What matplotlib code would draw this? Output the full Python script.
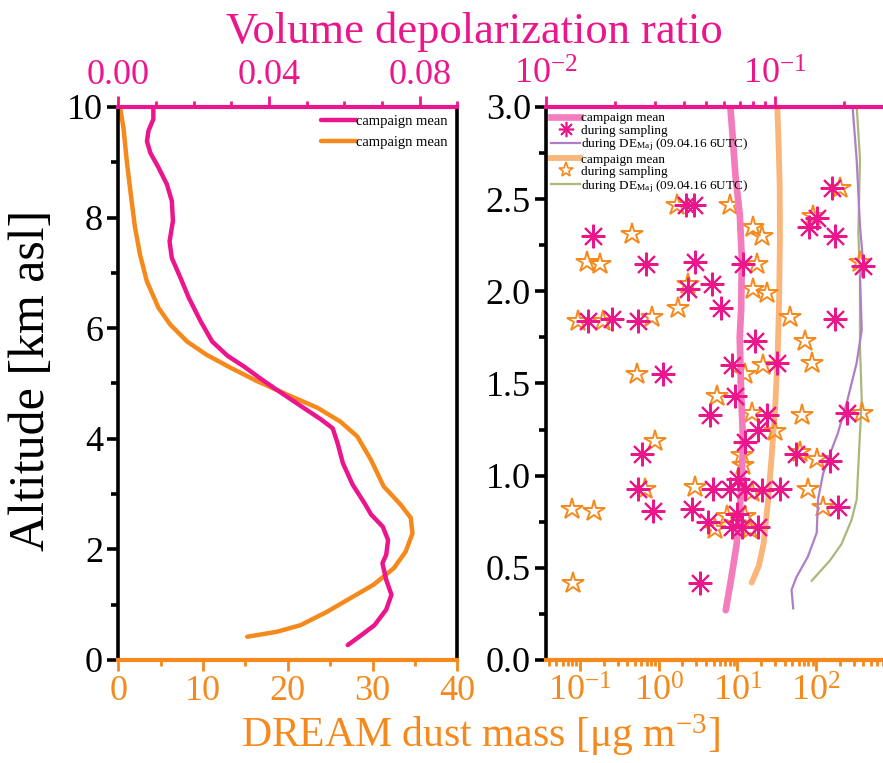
import matplotlib
matplotlib.use("Agg")
import matplotlib.pyplot as plt
from matplotlib.ticker import (MultipleLocator, LogLocator, LogFormatterMathtext,
                               NullFormatter, FormatStrFormatter)
from matplotlib.lines import Line2D

plt.rcParams['font.family'] = ['Liberation Serif', 'DejaVu Serif']
plt.rcParams['mathtext.fontset'] = 'custom'
plt.rcParams['mathtext.rm'] = 'Liberation Serif'
plt.rcParams['mathtext.it'] = 'Liberation Serif:italic'
plt.rcParams['mathtext.bf'] = 'Liberation Serif:bold'

# ---- campaign-mean profiles ----
alt_dep_mean = [0.27, 0.45, 0.63, 0.91, 1.18, 1.45, 1.75, 1.90, 2.17, 2.41, 2.63, 2.84,
                3.17, 3.56, 3.92, 4.19, 4.35, 4.59, 4.92, 5.10, 5.30, 5.50, 5.76, 6.13,
                6.55, 6.91, 7.27, 7.57, 7.94, 8.30, 8.60, 8.90, 9.17, 9.38, 9.57, 9.78, 9.96]
dep_mean = [0.0609, 0.0645, 0.0680, 0.0711, 0.0725, 0.0711, 0.0701, 0.0711, 0.0716, 0.0702,
            0.0671, 0.0653, 0.0622, 0.0596, 0.0582, 0.0569, 0.0538, 0.0485, 0.0413, 0.0375,
            0.0335, 0.0290, 0.0249, 0.0218, 0.0187, 0.0165, 0.0142, 0.0136, 0.0145, 0.0142,
            0.0129, 0.0107, 0.0085, 0.0076, 0.0080, 0.0093, 0.0093]

alt_dust_mean = [0.42, 0.51, 0.63, 0.87, 1.12, 1.36, 1.66, 1.96, 2.29, 2.57, 2.81, 3.14,
                 3.62, 4.04, 4.31, 4.56, 4.80, 5.04, 5.28, 5.52, 5.76, 6.07, 6.37, 6.85,
                 7.33, 7.82, 8.42, 9.02, 9.63, 9.99]
dust_mean = [15.2, 18.7, 21.5, 24.6, 27.4, 30.1, 32.5, 33.9, 34.7, 34.5, 33.3, 31.3,
             29.8, 28.2, 26.2, 23.5, 19.9, 16.4, 13.3, 10.4, 8.1, 6.1, 4.73, 3.36,
             2.56, 1.97, 1.47, 1.0, 0.6, 0.2]

# ---- DE_Maj profiles (09.04.16 6UTC) ----
alt_dep_de = [0.28, 0.38, 0.45, 0.56, 0.69, 0.87, 1.01, 1.12, 1.23, 1.41, 1.61, 1.79,
              2.07, 2.14, 2.35, 2.72, 3.0]
dep_de = [0.120, 0.118, 0.124, 0.139, 0.152, 0.154, 0.162, 0.174, 0.188, 0.207, 0.227,
          0.239, 0.235, 0.243, 0.235, 0.227, 0.218]

alt_dust_de = [0.43, 0.54, 0.63, 0.76, 0.87, 1.05, 1.23, 1.41, 1.70, 2.07, 2.32, 2.72, 3.0]
dust_de = [88, 150, 211, 282, 328, 344, 361, 380, 361, 361, 344, 361, 328]

# ---- values during sampling ----
alt_dep_samp = [2.56, 2.47, 2.47, 2.40, 2.35, 2.30, 2.30, 2.15, 2.16, 2.15, 2.14, 2.04,
                2.01, 1.91, 1.84, 1.85, 1.84, 1.85, 1.73, 1.60, 1.61, 1.55, 1.43, 1.33,
                1.33, 1.34, 1.25, 1.18, 1.12, 1.12, 1.08, 0.98, 0.93, 0.93, 0.93, 0.93,
                0.92, 0.93, 0.81, 0.82, 0.83, 0.75, 0.79, 0.72, 0.72, 0.72, 0.42]
dep_samp = [0.177, 0.0408, 0.0443, 0.152, 0.140, 0.183, 0.0161, 0.0274, 0.0448, 0.0728,
            0.243, 0.0530, 0.0418, 0.0581, 0.0153, 0.0194, 0.0253, 0.183, 0.0818, 0.0647,
            0.1016, 0.0325, 0.0668, 0.0520, 0.092, 0.206, 0.084, 0.074, 0.0262, 0.124,
            0.174, 0.0692, 0.0251, 0.0538, 0.0636, 0.0739, 0.0875, 0.105, 0.0294, 0.0433,
            0.189, 0.0512, 0.068, 0.0647, 0.0716, 0.0845, 0.047]

alt_dust_samp = [2.56, 2.47, 2.47, 2.41, 2.35, 2.30, 2.31, 2.16, 2.15, 2.15, 2.16, 2.04,
                 2.01, 1.99, 1.91, 1.84, 1.84, 1.86, 1.86, 1.73, 1.61, 1.60, 1.55, 1.55,
                 1.43, 1.34, 1.33, 1.34, 1.24, 1.11, 1.19, 1.13, 1.09, 0.94, 0.93, 0.93,
                 0.91, 0.82, 0.81, 0.83, 0.71, 0.78, 0.78, 0.71, 0.42, 1.06]
dust_samp = [201, 1.69, 8.05, 92, 15.9, 20.4, 0.454, 0.122, 0.180, 17.6, 361, 2.38,
             15.9, 23.5, 1.77, 0.095, 0.196, 0.815, 46.6, 72, 88, 21.3, 12.5, 0.525,
             5.58, 15.2, 65.6, 380, 30, 11.4, 0.897, 62, 102, 2.89, 0.67, 80,
             15.2, 0.0785, 0.151, 122, 5.19, 7.3, 12.5, 14.5, 0.082, 11.7]

PINK = '#ec168c'
ORANGE = '#f5891c'
LPINK = '#f37cbc'
LORANGE = '#f9b57a'
PURPLE = '#b07ec6'
OLIVE = '#a9b97a'
TICK_FS = 26
LABEL_FS = 32

fig = plt.figure(figsize=(8.83, 7.63), dpi=100)


def style_axes(ax, axt):
    ax.spines['top'].set_visible(False)
    for s in ('left', 'bottom', 'right'):
        axt.spines[s].set_visible(False)
    ax.spines['left'].set_color('k')
    ax.spines['left'].set_linewidth(2.6)
    ax.spines['right'].set_color('k')
    ax.spines['right'].set_linewidth(2.6)
    ax.spines['bottom'].set_color(ORANGE)
    ax.spines['bottom'].set_linewidth(3)
    axt.spines['top'].set_color(PINK)
    axt.spines['top'].set_linewidth(3)
    ax.tick_params(axis='y', which='major', direction='out', length=8, width=2.6,
                   color='k', labelsize=TICK_FS, labelcolor='k', pad=3)
    ax.tick_params(axis='y', which='minor', direction='out', length=5, width=2.6, color='k')
    ax.tick_params(axis='x', which='major', direction='out', length=8, width=2,
                   color=ORANGE, labelsize=TICK_FS, labelcolor=ORANGE, pad=3)
    ax.tick_params(axis='x', which='minor', direction='out', length=4.5, width=2, color=ORANGE)
    axt.tick_params(axis='x', which='major', direction='out', length=8, width=2,
                    color=PINK, labelsize=TICK_FS, labelcolor=PINK, pad=3)
    axt.tick_params(axis='x', which='minor', direction='out', length=4.5, width=2, color=PINK)


# ---------------- left panel ----------------
axL = fig.add_axes([0.134, 0.135, 0.384, 0.7248])
axLt = axL.twiny()
l_dust, = axL.plot(dust_mean, alt_dust_mean, color=ORANGE, lw=3.2, solid_capstyle='round')
l_dep, = axLt.plot(dep_mean, alt_dep_mean, color=PINK, lw=3.2, solid_capstyle='round')
axL.set_xlim(0, 40)
axL.set_ylim(0, 10)
axLt.set_xlim(0, 0.09)
axL.xaxis.set_major_locator(MultipleLocator(10))
axL.xaxis.set_minor_locator(MultipleLocator(5))
axL.yaxis.set_major_locator(MultipleLocator(2))
axL.yaxis.set_minor_locator(MultipleLocator(1))
axLt.xaxis.set_major_locator(MultipleLocator(0.04))
axLt.xaxis.set_minor_locator(MultipleLocator(0.01))
axLt.xaxis.set_major_formatter(FormatStrFormatter('%.2f'))
style_axes(axL, axLt)
axLt.legend([l_dep, l_dust], ['campaign mean', 'campaign mean'], loc='upper right',
            bbox_to_anchor=(1.0, 1.005), frameon=False, fontsize=10.5,
            handlelength=2.4, handletextpad=0.0, labelspacing=0.55, borderpad=0.2)

# ---------------- right panel ----------------
axR = fig.add_axes([0.6184, 0.135, 0.3816, 0.7248])
axRt = axR.twiny()
lr_dust, = axR.plot(dust_mean, alt_dust_mean, color=LORANGE, lw=4.2, solid_capstyle='round')
lr_dust_de, = axR.plot(dust_de, alt_dust_de, color=OLIVE, lw=1.6)
s_dust, = axR.plot(dust_samp, alt_dust_samp, ls='none', marker='*', ms=16,
                   mfc='none', mec=ORANGE, mew=1.4)
lr_dep, = axRt.plot(dep_mean, alt_dep_mean, color=LPINK, lw=4.8, solid_capstyle='round')
lr_dep_de, = axRt.plot(dep_de, alt_dep_de, color=PURPLE, lw=1.6)
s_dep, = axRt.plot(dep_samp, alt_dep_samp, ls='none', marker=(8, 2, 0), ms=17,
                   color=PINK, mec=PINK, mew=1.5)

axR.set_xscale('log')
axRt.set_xscale('log')
axR.set_xlim(0.0370, 708)
axRt.set_xlim(0.01, 0.296)
axR.set_ylim(0, 3)
axR.yaxis.set_major_locator(MultipleLocator(0.5))
axR.yaxis.set_minor_locator(MultipleLocator(0.25))
axR.yaxis.set_major_formatter(FormatStrFormatter('%.1f'))
for a in (axR, axRt):
    a.xaxis.set_major_locator(LogLocator(base=10, numticks=12))
    a.xaxis.set_minor_locator(LogLocator(base=10, subs=range(2, 10), numticks=12))
    a.xaxis.set_major_formatter(LogFormatterMathtext())
    a.xaxis.set_minor_formatter(NullFormatter())
style_axes(axR, axRt)
axR.spines['right'].set_visible(False)

de_label = r'during DE$_{\rm Maj}$ (09.04.16 6UTC)'
handles = [Line2D([], [], color=LPINK, lw=4.8),
           Line2D([], [], ls='none', marker=(8, 2, 0), ms=11, color=PINK, mew=1.2),
           Line2D([], [], color=PURPLE, lw=1.6),
           Line2D([], [], color=LORANGE, lw=4.2),
           Line2D([], [], ls='none', marker='*', ms=11, mfc='none', mec=ORANGE, mew=1.2),
           Line2D([], [], color=OLIVE, lw=1.6)]
labels = ['campaign mean', 'during sampling', de_label,
          'campaign mean', 'during sampling', de_label]
axRt.legend(handles, labels, loc='upper left', bbox_to_anchor=(0.0, 1.0),
            frameon=False, fontsize=9.5, handlelength=2.2, handletextpad=0.05,
            labelspacing=0.0, borderpad=0.25, borderaxespad=0.15)

# ---------------- shared axis titles ----------------
fig.text(0.537, 0.958, 'Volume depolarization ratio', color=PINK, fontsize=LABEL_FS,
         ha='center', va='center')
fig.text(0.544, 0.036, r'DREAM dust mass [$\mathrm{\mu}$g m$^{-3}$]', color=ORANGE,
         fontsize=30, ha='center', va='center')
fig.text(0.036, 0.502, 'Altitude [km asl]', color='k', fontsize=36,
         ha='center', va='center', rotation=90)

fig.savefig('out.png', dpi=100)
